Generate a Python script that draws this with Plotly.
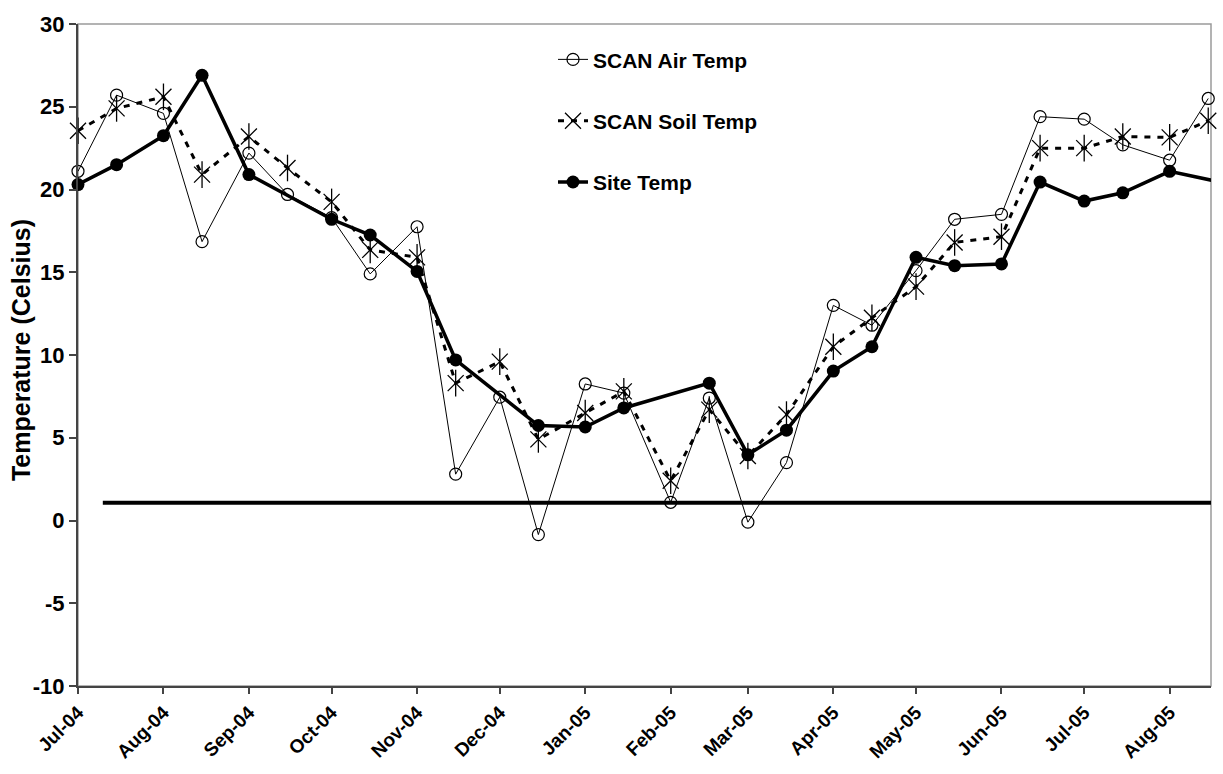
import plotly.graph_objects as go

# ---- data ----
semi_monthly_dates = [
    "2004-07-01", "2004-07-15", "2004-08-01", "2004-08-15", "2004-09-01", "2004-09-15",
    "2004-10-01", "2004-10-15", "2004-11-01", "2004-11-15", "2004-12-01", "2004-12-15",
    "2005-01-01", "2005-01-15", "2005-02-01", "2005-02-15", "2005-03-01", "2005-03-15",
    "2005-04-01", "2005-04-15", "2005-05-01", "2005-05-15", "2005-06-01", "2005-06-15",
    "2005-07-01", "2005-07-15", "2005-08-01", "2005-08-15",
]
scan_air_temp = [
    21.1, 25.7, 24.6, 16.85, 22.2, 19.7,
    18.3, 14.9, 17.75, 2.8, 7.45, -0.85,
    8.25, 7.7, 1.1, 7.4, -0.1, 3.5,
    13.0, 11.8, 15.1, 18.2, 18.5, 24.4,
    24.25, 22.7, 21.77, 25.5,
]
scan_soil_temp = [
    23.55, 24.9, 25.6, 20.9, 23.2, 21.3,
    19.25, 16.35, 15.9, 8.3, 9.6, 4.9,
    6.5, 7.8, 2.4, 6.7, 3.9, 6.4,
    10.5, 12.25, 14.13, 16.8, 17.15, 22.5,
    22.5, 23.2, 23.15, 24.15,
]
site_dates = [
    "2004-07-01", "2004-07-15", "2004-08-01", "2004-08-15", "2004-09-01",
    "2004-10-01", "2004-10-15", "2004-11-01", "2004-11-15", "2004-12-15",
    "2005-01-01", "2005-01-15", "2005-02-15", "2005-03-01", "2005-03-15",
    "2005-04-01", "2005-04-15", "2005-05-01", "2005-05-15", "2005-06-01",
    "2005-06-15", "2005-07-01", "2005-07-15", "2005-08-01", "2005-09-01",
]
site_temp = [
    20.3, 21.5, 23.25, 26.9, 20.9,
    18.2, 17.25, 15.05, 9.7, 5.74,
    5.65, 6.8, 8.3, 3.97, 5.46,
    9.03, 10.5, 15.9, 15.4, 15.5,
    20.45, 19.3, 19.8, 21.1, 20.0,
]
threshold_dates = ["2004-07-10", "2005-08-16"]
threshold_temp = [1.07, 1.07]

y_tick_values = [-10, -5, 0, 5, 10, 15, 20, 25, 30]
y_tick_labels = ["-10", "-5", "0", "5", "10", "15", "20", "25", "30"]
x_range = ["2004-07-01", "2005-08-16"]
y_range = [-10, 30]

FONT = "Liberation Sans, Arial, sans-serif"

fig = go.Figure()

fig.add_trace(go.Scatter(
    x=threshold_dates, y=threshold_temp, mode="lines",
    line=dict(color="black", width=4), showlegend=False, hoverinfo="skip",
))

fig.add_trace(go.Scatter(
    x=semi_monthly_dates, y=scan_air_temp, mode="lines+markers",
    name="SCAN Air Temp", legendgroup="air",
    line=dict(color="black", width=1),
    marker=dict(symbol="circle-open", size=12, color="black", line=dict(width=1.2)),
    cliponaxis=False,
))

fig.add_trace(go.Scatter(
    x=semi_monthly_dates, y=scan_soil_temp, mode="lines+markers",
    name="SCAN Soil Temp", legendgroup="soil",
    line=dict(color="black", width=3, dash="6px,7px"),
    marker=dict(symbol="x-thin-open", size=16, color="black", line=dict(width=1.3, color="black")),
    cliponaxis=False,
))
fig.add_trace(go.Scatter(
    x=semi_monthly_dates, y=scan_soil_temp, mode="markers",
    legendgroup="soil", showlegend=False, hoverinfo="skip",
    marker=dict(symbol="line-ns-open", size=19, color="black", line=dict(width=1.3, color="black")),
    cliponaxis=False,
))

fig.add_trace(go.Scatter(
    x=site_dates, y=site_temp, mode="lines+markers",
    name="Site Temp", legendgroup="site",
    line=dict(color="black", width=3.5),
    marker=dict(symbol="circle", size=13, color="black"),
    cliponaxis=False,
))

fig.update_layout(
    width=1223, height=774,
    margin=dict(l=78, r=12, t=16, b=85),
    paper_bgcolor="white", plot_bgcolor="white",
    font=dict(family=FONT, color="black", size=15),
    showlegend=True,
    legend=dict(
        x=(553 - 78) / 1133, xanchor="left",
        y=0.977, yanchor="top",
        bgcolor="rgba(0,0,0,0)",
        font=dict(family=FONT, size=21, color="black", weight="bold"),
        traceorder="grouped", tracegroupgap=31,
        itemwidth=30,
    ),
    shapes=[dict(
        type="rect", xref="paper", yref="paper", x0=0, y0=0, x1=1, y1=1,
        line=dict(color="#9a9a9a", width=1.5), layer="below",
    )],
    annotations=[dict(
        text="Temperature (Celsius)", textangle=-90,
        xref="paper", yref="paper", x=(21 - 78) / 1133, y=(689 - 347.5) / 673,
        xanchor="center", yanchor="middle", showarrow=False,
        font=dict(family=FONT, size=25, color="black", weight="bold"),
    )],
)

fig.update_xaxes(
    type="date", range=x_range,
    tick0="2004-07-01", dtick="M1", tickformat="%b-%y",
    tickangle=-45, ticks="outside", ticklen=6, tickwidth=1.5, tickcolor="#444",
    showline=True, linecolor="#444", linewidth=2,
    showgrid=False, zeroline=False,
    tickfont=dict(family=FONT, size=19, color="black", weight="bold"),
)
fig.update_yaxes(
    range=y_range, tickmode="array", tickvals=y_tick_values, ticktext=y_tick_labels,
    ticks="outside", ticklen=7, tickwidth=1.5, tickcolor="#444",
    showline=True, linecolor="#444", linewidth=2,
    showgrid=False, zeroline=False,
    tickfont=dict(family=FONT, size=22, color="black", weight="bold"),
)

fig.write_html("out.html")
